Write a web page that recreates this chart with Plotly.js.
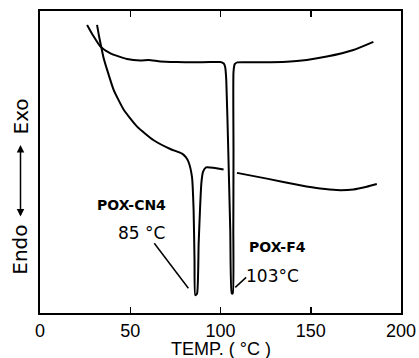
<!DOCTYPE html>
<html><head><meta charset="utf-8">
<script src="https://cdn.plot.ly/plotly-3.0.1.min.js"></script>
<style>body{margin:0;background:#fff}#c{width:419px;height:358px}</style>
</head><body><div id="c"></div>
<script>
// POX-F4 DSC trace (temperature °C, relative heat flow)
const f4Temp = [26.1,29.6,33.5,39.0,48.2,55.6,60.2,66.7,75.9,84.9,94.3,99.9,101.8,102.6,103.2,104.3,105.4,106.2,106.8,107.1,107.2,107.2,107.9,109.3,118.3,136.8,147.8,158.9,173.6,184.7];
const f4Flow = [95.4,91.7,88.2,86.0,84.1,83.6,83.8,83.3,83.1,83.0,83.1,83.1,82.6,81.4,77.1,53.9,27.4,6.5,6.5,27.4,53.9,79.8,82.4,83.0,83.0,83.2,83.8,84.9,87.1,89.8];
// POX-CN4 DSC trace (null = pen gap where it crosses the F4 peak)
const cn4Temp = [31.6,32.6,33.5,35.1,37.2,40.8,46.4,53.8,63.0,72.2,78.7,80.8,82.3,84.2,85.1,85.6,86.0,87.0,87.9,88.8,89.4,90.3,92.0,101.7,null,109.1,125.7,144.1,155.2,164.4,173.6,181.0,186.6];
const cn4Flow = [95.4,92.0,89.3,84.8,80.5,73.9,67.3,61.7,57.2,54.3,52.8,51.6,50.0,45.1,34.0,17.5,5.9,6.4,23.1,36.4,43.0,46.7,48.2,47.5,null,46.4,44.5,42.3,41.2,40.7,40.9,41.8,42.7];
// x ticks
const xTicks = [0,50,100,150,200];
// labels
const labelText = ["POX-CN4","85 °C","POX-F4","103°C"];
const labelX = [50.6,56.5,131.4,128.6];
const labelY = [35.7,26.4,21.8,12.2];
const labelBold = [true,false,true,false];
// leader lines [x0,y0,x1,y1]
const leaders = [[63.3,23.1,82.2,8.2],[108.2,8.5,114.2,11.8]];

const lineStyle = {color:'#000', width:2, shape:'spline', smoothing:0.5};
const traces = [
  {x:f4Temp, y:f4Flow, mode:'lines', line:lineStyle, hoverinfo:'skip'},
  {x:cn4Temp, y:cn4Flow, mode:'lines', line:lineStyle, connectgaps:false, hoverinfo:'skip'}
];
const ann = labelText.map((t,i)=>({
  x:labelX[i], y:labelY[i], xref:'x', yref:'y', text:labelBold[i]?'<b>'+t+'</b>':t, showarrow:false,
  xanchor:'center', yanchor:'middle',
  font:labelBold[i]?{family:'DejaVu Sans', size:14, color:'#000'}:{family:'DejaVu Sans', size:17, color:'#000'}
}));
ann.push({x:0.5, y:-0.08, xref:'paper', yref:'paper', text:'TEMP. ( °C )', showarrow:false, xanchor:'center', yanchor:'top',
  font:{family:'Liberation Sans', size:18, color:'#000'}});
ann.push({x:-0.054, y:0.649, xref:'paper', yref:'paper', text:'Exo', textangle:-90, showarrow:false,
  xanchor:'center', yanchor:'middle', font:{family:'DejaVu Sans', size:20, color:'#000'}});
ann.push({x:-0.054, y:0.208, xref:'paper', yref:'paper', text:'Endo', textangle:-90, showarrow:false,
  xanchor:'center', yanchor:'middle', font:{family:'DejaVu Sans', size:20, color:'#000'}});
ann.push({x:-0.054, y:0.556, xref:'paper', yref:'paper', text:'', showarrow:true, ax:0, ay:73,
  arrowside:'end+start', arrowhead:2, arrowsize:1, arrowwidth:1.5, arrowcolor:'#000'});
const shapes = leaders.map(l=>({type:'line', xref:'x', yref:'y', x0:l[0], y0:l[1], x1:l[2], y1:l[3], line:{color:'#000', width:1.5}}));

const layout = {
  width:419, height:358, showlegend:false,
  margin:{l:39.5, r:18, t:11, b:45.3},
  paper_bgcolor:'#fff', plot_bgcolor:'#fff',
  xaxis:{range:[0,200], tickvals:xTicks, ticktext:xTicks.map(String), showgrid:false, zeroline:false,
    showline:true, linecolor:'#000', linewidth:2, mirror:'ticks', ticks:'inside', ticklen:6, tickwidth:1.5, tickcolor:'#000',
    tickfont:{family:'Liberation Sans', size:18, color:'#000'}},
  yaxis:{range:[0,100], showgrid:false, zeroline:false, showticklabels:false, ticks:'',
    showline:true, linecolor:'#000', linewidth:2, mirror:true},
  annotations:ann, shapes:shapes
};
Plotly.newPlot('c', traces, layout, {staticPlot:true, displayModeBar:false});
</script></body></html>
